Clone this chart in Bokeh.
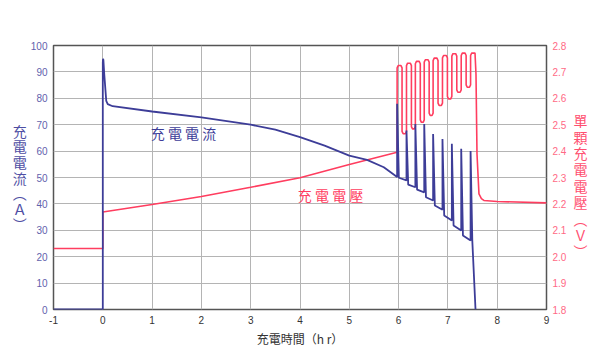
import math
from bokeh.plotting import figure
from bokeh.models import Range1d, LinearAxis, FixedTicker, Label, PrintfTickFormatter
from bokeh.embed import file_html
from bokeh.resources import INLINE

# ---------------- data ----------------
x_ticks = [-1, 0, 1, 2, 3, 4, 5, 6, 7, 8, 9]
i_ticks = [0, 10, 20, 30, 40, 50, 60, 70, 80, 90, 100]
v_ticks = [1.8, 1.9, 2.0, 2.1, 2.2, 2.3, 2.4, 2.5, 2.6, 2.7, 2.8]

# charging current (A), smooth part before the pulse phase
cur_t = [-1.0, 0.0, 0.0, 0.005, 0.012, 0.03, 0.07, 0.1, 0.2, 1.0, 2.0, 3.0, 3.5, 4.0, 4.5, 5.0, 5.36, 5.7, 5.97]
cur_a = [0.0, 0.0, 93.5, 95.0, 94.5, 89.0, 79.0, 77.8, 77.0, 75.0, 72.8, 70.0, 68.1, 65.3, 62.1, 58.3, 56.7, 53.9, 50.2]

# pulse phase
pulse_t = [5.97, 6.16, 6.34, 6.52, 6.70, 6.89, 7.08, 7.27, 7.46]
cur_peak = [77.9, 67.8, 70.3, 70.3, 66.5, 64.6, 62.8, 60.9, 60.0]
cur_trough = [49.9, 47.3, 45.4, 42.5, 39.4, 35.6, 31.8, 28.0, 26.1]
cur_base = [48.9, 46.3, 44.4, 41.3, 37.8, 33.7, 29.9, 26.1]
cur_end_t = [7.56]
cur_end_a = [0.0]

# charging voltage per cell (V)
volt_t = [-1.0, 0.0, 0.0, 1.0, 2.0, 3.0, 4.0, 5.0, 5.97]
volt_v = [2.031, 2.031, 2.169, 2.198, 2.228, 2.263, 2.299, 2.349, 2.396]
v_high = [2.724, 2.733, 2.740, 2.746, 2.752, 2.762, 2.769, 2.771, 2.771]
v_low = [2.466, 2.484, 2.509, 2.535, 2.573, 2.598, 2.623, 2.642]
volt_tail_t = [7.55, 7.57, 7.59, 7.63, 7.68, 7.73, 8.0, 9.0]
volt_tail_v = [2.771, 2.69, 2.39, 2.238, 2.22, 2.213, 2.209, 2.204]

# texts
left_title = ["充", "電", "電", "流", "︵", "Ａ", "︶"]
right_title = [" ", "單", "顆", "充", "電", "電", "壓", "︵", "Ｖ", "︶"]
x_title = "充電時間（h r）"
cur_name = "充 電 電 流"
volt_name = "充 電 電 壓"

# ---------------- assemble the series ----------------
CT, CA = list(cur_t), list(cur_a)
n = len(pulse_t)
for k in range(n):
    t = pulse_t[k]
    CT += [t, t + 0.035]
    CA += [cur_peak[k], cur_trough[k]]
    if k < n - 1:
        CT.append(pulse_t[k + 1])
        CA.append(cur_base[k])
CT += cur_end_t
CA += cur_end_a

VT, VV = list(volt_t), list(volt_v)
dt, dv, w = 0.022, 0.009, 0.10
for k in range(n):
    t = pulse_t[k]
    hi = v_high[k]
    if k == n - 1:
        VT += [t, t + dt, t + w - dt]
        VV += [hi - dv, hi, hi]
    else:
        VT += [t, t + dt, t + w - dt, t + w]
        VV += [hi - dv, hi, hi, hi - dv]
        lo = v_low[k]
        tn = pulse_t[k + 1]
        VT += [t + w, t + w + dt, tn - dt, tn]
        VV += [lo + dv, lo, lo, lo + dv]
VT += volt_tail_t
VV += volt_tail_v

# ---------------- figure ----------------
CUR_C = "#3d3d98"
VOLT_C = "#ff3d5f"
CJK = "Noto Sans CJK TC"

p = figure(width=600, height=360, x_range=Range1d(-1, 9), y_range=Range1d(0, 100),
           output_backend="svg", toolbar_location=None,
           min_border_left=53, min_border_right=54, min_border_top=45, min_border_bottom=51)
p.extra_y_ranges = {"v": Range1d(1.8, 2.8)}
p.outline_line_color = "#555555"
p.outline_line_width = 1.5


def style_axis(ax, color):
    ax.axis_line_color = None
    ax.major_tick_out = 0
    ax.major_tick_in = 0
    ax.minor_tick_out = 0
    ax.minor_tick_in = 0
    ax.major_label_text_font = "Liberation Sans"
    ax.major_label_text_font_size = "10px"
    ax.major_label_standoff = 6
    ax.major_label_text_color = color


style_axis(p.xaxis[0], "#333333")
p.xaxis[0].ticker = FixedTicker(ticks=x_ticks)
p.xaxis[0].formatter = PrintfTickFormatter(format="%d")
p.xaxis[0].axis_label = x_title
p.xaxis[0].axis_label_text_font = CJK
p.xaxis[0].axis_label_text_font_size = "12px"
p.xaxis[0].axis_label_text_font_style = "normal"
p.xaxis[0].axis_label_text_color = "#333333"
p.xaxis[0].axis_label_standoff = 3

style_axis(p.yaxis[0], "#6262ad")
p.yaxis[0].ticker = FixedTicker(ticks=i_ticks)
p.yaxis[0].axis_label = "\n".join(left_title)
p.yaxis[0].axis_label_orientation = "horizontal"
p.yaxis[0].axis_label_text_font = CJK
p.yaxis[0].axis_label_text_font_size = "14px"
p.yaxis[0].axis_label_text_font_style = "normal"
p.yaxis[0].axis_label_text_color = "#4e4ea3"
p.yaxis[0].axis_label_text_line_height = 0.78
p.yaxis[0].axis_label_standoff = 1

ra = LinearAxis(y_range_name="v", ticker=FixedTicker(ticks=v_ticks),
                formatter=PrintfTickFormatter(format="%.1f"))
style_axis(ra, "#ff6985")
ra.axis_label = "\n".join(right_title)
ra.axis_label_orientation = "horizontal"
ra.axis_label_text_font = CJK
ra.axis_label_text_font_size = "14px"
ra.axis_label_text_font_style = "normal"
ra.axis_label_text_color = "#ff4f70"
ra.axis_label_text_line_height = 0.82
ra.axis_label_standoff = 4
p.add_layout(ra, "right")

p.xgrid.ticker = FixedTicker(ticks=x_ticks)
p.ygrid.ticker = FixedTicker(ticks=i_ticks)
p.xgrid.grid_line_color = "#b4b4b4"
p.ygrid.grid_line_color = "#b4b4b4"

p.line(VT, VV, y_range_name="v", line_color=VOLT_C, line_width=1.6)
p.line(CT, CA, line_color=CUR_C, line_width=1.8)

p.add_layout(Label(x=1.637, y=66.7, text=cur_name, text_font=CJK, text_font_size="14px",
                   text_color=CUR_C, text_align="center", text_baseline="middle"))
p.add_layout(Label(x=4.62, y=43.2, text=volt_name, text_font=CJK, text_font_size="14px",
                   text_color=VOLT_C, text_align="center", text_baseline="middle"))

open("out.html", "w").write(file_html(p, INLINE))
